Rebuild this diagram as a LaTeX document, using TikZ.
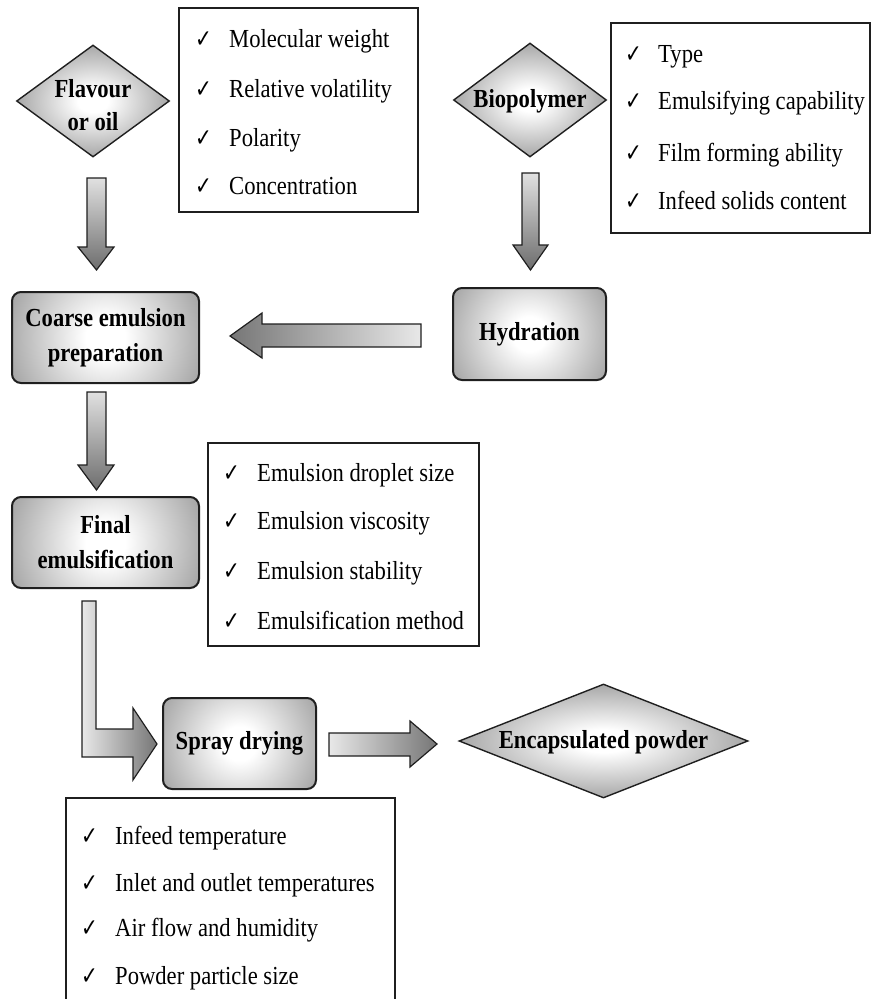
\documentclass[tikz,border=0pt]{standalone}
\usepackage{fontspec}
\setmainfont[FakeStretch=0.87]{Liberation Serif}
\newfontfamily\chkfont[FakeStretch=0.8]{DejaVu Sans}
\usetikzlibrary{shapes.geometric,shadings}

\definecolor{shadeedge}{gray}{0.40}
\definecolor{shadeouter}{gray}{0.34}
\definecolor{arrowdark}{gray}{0.40}
\definecolor{linecol}{gray}{0.12}

\pgfdeclareradialshading{glow}{\pgfpoint{0bp}{0bp}}{color(0bp)=(white); color(5bp)=(white); color(40bp)=(shadeedge); color(50bp)=(shadeouter)}
\pgfdeclareverticalshading{vfade}{100bp}{color(0bp)=(arrowdark); color(22bp)=(arrowdark); color(88bp)=(white); color(100bp)=(white)}
\pgfdeclarehorizontalshading{hfade}{100bp}{color(0bp)=(white); color(15bp)=(white); color(82bp)=(arrowdark); color(100bp)=(arrowdark)}

\def\glowR{90}
\tikzset{
  glow radius/.code={\def\glowR{#1}},
  proc/.style={rectangle, rounded corners=9pt, draw=linecol, line width=2pt, fill=shadeouter,
    path picture={\shade[shading=glow]
      ([shift={(-\glowR,-\glowR)}]path picture bounding box.center) rectangle
      ([shift={(\glowR,\glowR)}]path picture bounding box.center);},
    inner sep=0pt, align=center, font=\fontsize{26}{35}\selectfont\bfseries},
  dia/.style={diamond, draw=linecol, line width=1.4pt, shading=glow, inner sep=0pt},
  lbl/.style={font=\fontsize{26}{33}\selectfont\bfseries, align=center, inner sep=0pt},
  infobox/.style={draw=linecol, line width=1.6pt, fill=white},
  item/.style={font=\fontsize{26}{30}\selectfont, anchor=base west, inner sep=0pt},
  tick/.style={font=\chkfont\fontsize{25}{25}\selectfont, anchor=base west, inner sep=0pt},
  darrow/.style={draw=linecol, line width=1.2pt, shading=vfade},
  rarrow/.style={draw=linecol, line width=1.2pt, shading=hfade},
  larrow/.style={draw=linecol, line width=1.2pt, shading=hfade, shading angle=180},
}

\begin{document}
\begin{tikzpicture}[x=1pt,y=1pt]
\useasboundingbox (0,0) rectangle (873,-999);

% ---------- info boxes ----------
\draw[infobox] (179,-8) rectangle (418,-212);
\draw[infobox] (611,-23) rectangle (870,-233);
\draw[infobox] (208,-443) rectangle (479,-646);
\draw[infobox] (66,-1005) -- (66,-798) -- (395,-798) -- (395,-1005);

% box 1
\node[tick] (t11) at (195,-47) {✓};
\node[item] (i11) at (229,-47) {Molecular weight};
\node[tick] (t12) at (195,-97) {✓};
\node[item] (i12) at (229,-97) {Relative volatility};
\node[tick] (t13) at (195,-146) {✓};
\node[item] (i13) at (229,-146) {Polarity};
\node[tick] (t14) at (195,-194) {✓};
\node[item] (i14) at (229,-194) {Concentration};

% box 2
\node[tick] (t21) at (625,-62) {✓};
\node[item] (i21) at (658,-62) {Type};
\node[tick] (t22) at (625,-109) {✓};
\node[item] (i22) at (658,-109) {Emulsifying capability};
\node[tick] (t23) at (625,-161) {✓};
\node[item] (i23) at (658,-161) {Film forming ability};
\node[tick] (t24) at (625,-209) {✓};
\node[item] (i24) at (658,-209) {Infeed solids content};

% box 3
\node[tick] (t31) at (223,-481) {✓};
\node[item] (i31) at (257,-481) {Emulsion droplet size};
\node[tick] (t32) at (223,-529) {✓};
\node[item] (i32) at (257,-529) {Emulsion viscosity};
\node[tick] (t33) at (223,-579) {✓};
\node[item] (i33) at (257,-579) {Emulsion stability};
\node[tick] (t34) at (223,-629) {✓};
\node[item] (i34) at (257,-629) {Emulsification method};

% box 4
\node[tick] (t41) at (81,-844) {✓};
\node[item] (i41) at (115,-844) {Infeed temperature};
\node[tick] (t42) at (81,-891) {✓};
\node[item] (i42) at (115,-891) {Inlet and outlet temperatures};
\node[tick] (t43) at (81,-936) {✓};
\node[item] (i43) at (115,-936) {Air flow and humidity};
\node[tick] (t44) at (81,-984) {✓};
\node[item] (i44) at (115,-984) {Powder particle size};

% ---------- process nodes ----------
\node[dia, minimum width=153pt, minimum height=112pt] (flav) at (93,-101) {};
\node[lbl] (flavl) at (93,-105) {Flavour\\or oil};
\node[dia, minimum width=153pt, minimum height=114pt] (bio) at (530,-100) {};
\node[lbl] (biol) at (530,-101) {Biopolymer};
\node[dia, minimum width=289pt, minimum height=114pt] (enc) at (603.5,-741) {};
\node[lbl] (encl) at (603.5,-742) {Encapsulated powder};

\node[proc, glow radius=100, minimum width=187pt, minimum height=91pt] (coarse) at (105.5,-337.5) {Coarse emulsion\\preparation};
\node[proc, glow radius=86, minimum width=153pt, minimum height=92pt] (hyd) at (529.5,-334) {Hydration};
\node[proc, glow radius=100, minimum width=187pt, minimum height=91pt] (final) at (105.5,-542.5) {Final\\emulsification};
\node[proc, glow radius=86, minimum width=153pt, minimum height=91pt] (spray) at (239.5,-743.5) {Spray drying};

% ---------- block arrows ----------
% flavour -> coarse
\path[darrow] (87,-178) -- (106,-178) -- (106,-247) -- (114,-247) -- (96.5,-270) -- (78,-247) -- (87,-247) -- cycle;
% biopolymer -> hydration
\path[darrow] (522,-173) -- (539,-173) -- (539,-245) -- (548,-245) -- (530.5,-270) -- (513,-245) -- (522,-245) -- cycle;
% hydration -> coarse
\path[larrow] (421,-324) -- (421,-347) -- (262,-347) -- (262,-358) -- (230,-336) -- (262,-313) -- (262,-324) -- cycle;
% coarse -> final
\path[darrow] (87,-392) -- (106,-392) -- (106,-465) -- (114,-465) -- (96.5,-490) -- (78,-465) -- (87,-465) -- cycle;
% final -> spray (L-shaped)
\path[rarrow] (82,-601) -- (96,-601) -- (96,-729) -- (133,-729) -- (133,-708) -- (157,-744) -- (133,-780) -- (133,-757) -- (82,-757) -- cycle;
% spray -> encapsulated
\path[rarrow] (329,-733) -- (410,-733) -- (410,-721) -- (437,-744) -- (410,-767) -- (410,-756) -- (329,-756) -- cycle;
\end{tikzpicture}
\end{document}
